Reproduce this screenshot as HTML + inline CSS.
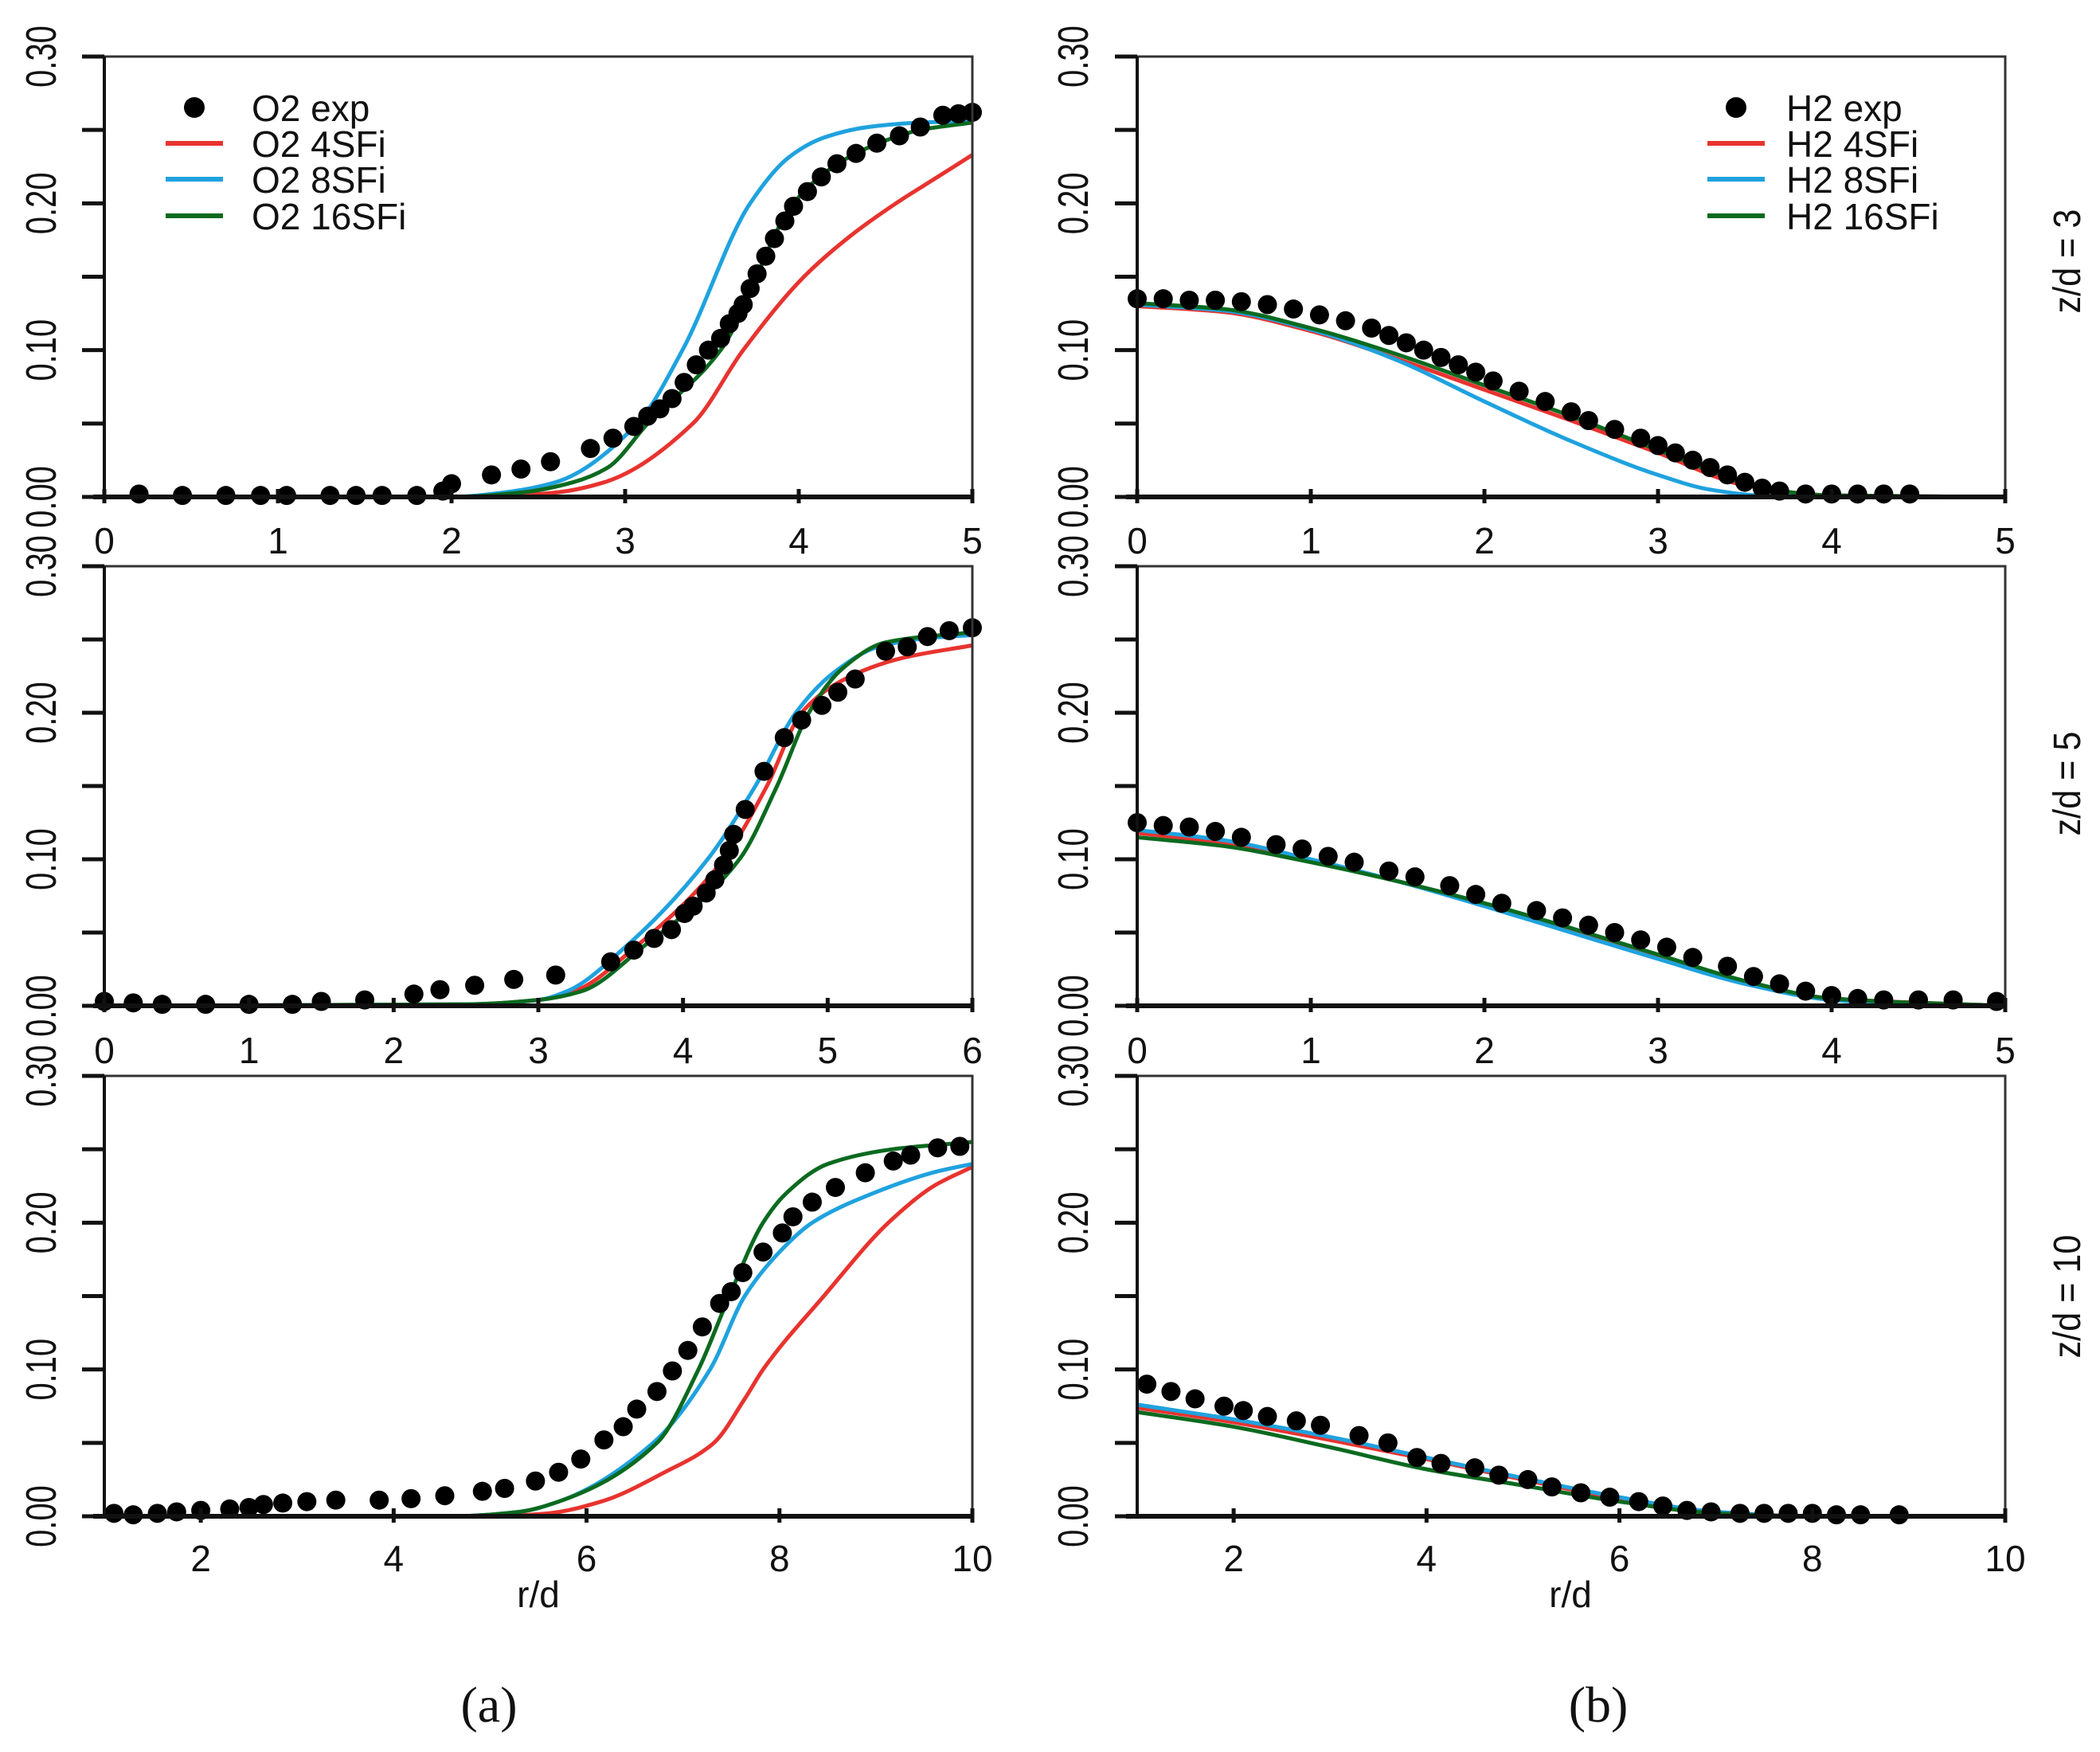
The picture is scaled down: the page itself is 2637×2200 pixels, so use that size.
<!DOCTYPE html>
<html><head><meta charset="utf-8"><style>
html,body{margin:0;padding:0;background:#fff;}
svg{display:block;}
text{font-family:"Liberation Sans",sans-serif;fill:#111;}
</style></head><body>
<svg id="fig" width="2637" height="2200" viewBox="0 0 2637 2200" xmlns="http://www.w3.org/2000/svg"></svg>
<script>
// ---- data ----
const yTickLabels = ["0.00","0.10","0.20","0.30"];
const a1ExpX = [0.2,0.45,0.7,0.9,1.05,1.3,1.45,1.6,1.8,1.95,2.0,2.23,2.4,2.57,2.8,2.93,3.05,3.13,3.2,3.27,3.34,3.41,3.48,3.55,3.6,3.65,3.68,3.72,3.76,3.81,3.86,3.92,3.97,4.05,4.13,4.22,4.33,4.45,4.58,4.7,4.83,4.92,5];
const a1ExpY = [.002,.001,.001,.001,.001,.001,.001,.001,.001,.004,.009,.015,.019,.024,.033,.04,.048,.055,.06,.067,.078,.09,.1,.108,.118,.125,.131,.142,.152,.164,.176,.188,.198,.208,.218,.227,.234,.241,.246,.252,.26,.261,.262];
const a1S16X = [0,2,2.4,2.7,2.9,3.13,3.55,3.97,4.2,4.44,4.7,5];
const a1S16Y = [0,0,.003,.01,.02,.05,.1,.2,.225,.24,.25,.255];
const a1S8X = [0,2,2.3,2.6,3.07,3.33,3.72,3.95,4.15,4.4,4.7,5];
const a1S8Y = [0,0,.003,.01,.05,.1,.2,.232,.245,.252,.255,.256];
const a1S4X = [0,2.2,2.6,2.88,3.39,3.68,4.03,4.3,4.56,4.8,5];
const a1S4Y = [0,0,.003,.01,.05,.1,.15,.178,.2,.218,.233];

const a2ExpX = [0,0.2,0.4,0.7,1,1.3,1.5,1.8,2.14,2.32,2.56,2.83,3.12,3.5,3.66,3.8,3.92,4.01,4.07,4.16,4.22,4.28,4.32,4.35,4.43,4.56,4.7,4.82,4.96,5.07,5.19,5.4,5.55,5.69,5.84,6];
const a2ExpY = [.003,.002,.001,.001,.001,.001,.003,.004,.008,.011,.014,.018,.021,.03,.038,.046,.052,.063,.068,.077,.086,.096,.106,.117,.134,.16,.183,.195,.205,.214,.223,.242,.245,.252,.256,.258];
const a2S16X = [0,2.5,3,3.3,3.72,4.39,4.65,4.87,5.1,5.4,6];
const a2S16Y = [0,.001,.004,.01,.04,.1,.15,.2,.23,.248,.255];
const a2S8X = [0,2.5,3,3.2,3.6,4.17,4.5,4.78,5.05,5.35,5.7,6];
const a2S8Y = [0,.001,.004,.01,.04,.1,.15,.2,.228,.245,.251,.253];
const a2S4X = [0,2.5,3,3.25,3.67,4.28,4.58,4.82,5.1,5.5,6];
const a2S4Y = [0,.001,.004,.01,.04,.1,.15,.2,.222,.237,.246];

const a3ExpX = [1.1,1.3,1.55,1.75,2,2.3,2.5,2.65,2.85,3.1,3.4,3.85,4.18,4.53,4.92,5.15,5.47,5.71,5.94,6.18,6.38,6.52,6.73,6.89,7.05,7.2,7.38,7.5,7.62,7.83,8.03,8.14,8.34,8.58,8.89,9.18,9.36,9.64,9.87];
const a3ExpY = [.002,.001,.002,.003,.004,.005,.006,.008,.009,.01,.011,.011,.012,.014,.017,.019,.024,.03,.039,.052,.061,.073,.085,.099,.113,.129,.145,.153,.166,.18,.193,.204,.214,.224,.234,.242,.246,.251,.252];
const a3S16X = [1,4.6,5.3,5.71,6.73,7.16,7.48,7.83,8.07,8.5,9.17,10];
const a3S16Y = [0,0,.003,.01,.05,.1,.15,.2,.22,.24,.25,.255];
const a3S8X = [1,4.6,5.3,5.71,6.69,7.28,7.64,8.0,8.34,8.97,9.64,10];
const a3S8Y = [0,0,.003,.01,.05,.1,.15,.18,.2,.22,.235,.24];
const a3S4X = [1,5,5.6,6.15,6.81,7.32,7.64,7.83,8.46,9.13,9.6,10];
const a3S4Y = [0,0,.002,.01,.03,.05,.08,.1,.15,.2,.225,.238];

const b1ExpX = [0,0.15,0.3,0.45,0.6,0.75,0.9,1.05,1.2,1.35,1.45,1.55,1.65,1.75,1.85,1.95,2.05,2.2,2.35,2.5,2.6,2.75,2.9,3,3.1,3.2,3.3,3.4,3.5,3.6,3.7,3.85,4,4.15,4.3,4.45];
const b1ExpY = [.135,.135,.134,.134,.133,.131,.128,.124,.12,.115,.11,.105,.1,.095,.09,.085,.079,.072,.065,.058,.052,.046,.04,.035,.03,.025,.02,.015,.01,.006,.004,.002,.002,.002,.002,.002];
const b1S16X = [0,0.5,1,1.5,2,2.5,3,3.3,3.6,4,5];
const b1S16Y = [.132,.128,.115,.097,.076,.055,.032,.018,.006,.001,0];
const b1S4X = [0,0.5,1,1.5,2,2.5,3,3.5,4,5];
const b1S4Y = [.13,.126,.113,.094,.073,.052,.03,.008,.001,0];
const b1S8X = [0,0.5,1,1.5,2,2.5,3,3.3,3.6,5];
const b1S8Y = [.131,.127,.114,.093,.065,.038,.015,.005,.001,0];

const b2ExpX = [0,0.15,0.3,0.45,0.6,0.8,0.95,1.1,1.25,1.45,1.6,1.8,1.95,2.1,2.3,2.45,2.6,2.75,2.9,3.05,3.2,3.4,3.55,3.7,3.85,4,4.15,4.3,4.5,4.7,4.95];
const b2ExpY = [.125,.123,.122,.119,.115,.11,.107,.102,.098,.092,.088,.082,.076,.07,.065,.06,.055,.05,.045,.04,.033,.027,.02,.015,.01,.007,.005,.004,.004,.004,.003];
const b2S8X = [0,0.5,1,1.5,2,2.5,3,3.5,4,4.5,5];
const b2S8Y = [.12,.113,.1,.085,.068,.05,.032,.015,.004,.001,0];
const b2S16X = [0,0.5,1,1.5,2,2.5,3,3.5,4,5];
const b2S16Y = [.115,.109,.098,.085,.07,.053,.035,.017,.005,0];
const b2S4X = [0,0.5,1,1.5,2,2.5,3,3.5,4,5];
const b2S4Y = [.118,.111,.099,.085,.069,.052,.034,.016,.005,0];

const b3ExpX = [1.1,1.35,1.6,1.9,2.1,2.35,2.65,2.9,3.3,3.6,3.9,4.15,4.5,4.75,5.05,5.3,5.6,5.9,6.2,6.45,6.7,6.95,7.25,7.5,7.75,8,8.25,8.5,8.9];
const b3ExpY = [.09,.085,.08,.075,.072,.068,.065,.062,.055,.05,.04,.036,.033,.028,.025,.02,.016,.013,.01,.007,.004,.003,.002,.002,.002,.002,.001,.001,.001];
const b3S8X = [1,2,3,4,5,6,7,8,10];
const b3S8Y = [.076,.066,.054,.04,.026,.013,.003,0,0];
const b3S4X = [1,2,3,4,5,6,7,8,10];
const b3S4Y = [.074,.064,.052,.039,.025,.012,.003,0,0];
const b3S16X = [1,2,3,4,5,6,7,8,10];
const b3S16Y = [.071,.061,.047,.032,.021,.01,.002,0,0];

const xTicksA = [0,1,2,3,4,5];
const xTicksB = [0,1,2,3,4,5,6];
const xTicksC = [2,4,6,8,10];

const RED="#e8332f", BLUE="#1fa2de", GREEN="#0b6a1f";
const NS="http://www.w3.org/2000/svg";
const svg=document.getElementById('fig');
function mk(tag,attrs,parent){const e=document.createElementNS(NS,tag);for(const k in attrs)e.setAttribute(k,attrs[k]);(parent||svg).appendChild(e);return e;}

// monotone cubic (Fritsch-Carlson) path in screen coords
function monoPath(pts){
  const n=pts.length;
  const dx=[],m=[];
  for(let i=0;i<n-1;i++){dx.push(pts[i+1][0]-pts[i][0]);m.push((pts[i+1][1]-pts[i][1])/dx[i]);}
  const t=new Array(n);
  t[0]=m[0];t[n-1]=m[n-2];
  for(let i=1;i<n-1;i++){
    if(m[i-1]*m[i]<=0)t[i]=0;
    else{const w1=2*dx[i]+dx[i-1],w2=dx[i]+2*dx[i-1];t[i]=(w1+w2)/(w1/m[i-1]+w2/m[i]);}
  }
  let d="M"+pts[0][0]+","+pts[0][1];
  for(let i=0;i<n-1;i++){
    const h=dx[i]/3;
    d+=" C"+(pts[i][0]+h)+","+(pts[i][1]+t[i]*h)+" "+(pts[i+1][0]-h)+","+(pts[i+1][1]-t[i+1]*h)+" "+pts[i+1][0]+","+pts[i+1][1];
  }
  return d;
}

function panel(name,L,T,R,B,xmin,xmax,xticks,series,exp,yLabX,xLabY){
  const g=mk('g',{});
  
  
  const sx=v=>L+(v-xmin)/(xmax-xmin)*(R-L);
  const sy=v=>B-v/0.30*(B-T);
  series.forEach(s=>{
    const pts=s.x.map((v,i)=>[sx(v),sy(s.y[i])]);
    const p=mk('path',{d:monoPath(pts),fill:'none',stroke:s.c,'stroke-width':5,'stroke-linejoin':'round'},g);
    
    
  });
  exp.x.forEach((v,i)=>{
    const c=mk('circle',{cx:sx(v),cy:sy(exp.y[i]),r:12,fill:'#000'},g);
    
    
  });
  const f=mk('rect',{x:L,y:T,width:R-L,height:B-T,fill:'none',stroke:'#333','stroke-width':3},g);
  
  
  mk('line',{x1:L-14,y1:B,x2:R,y2:B,stroke:'#111','stroke-width':6},g);
  mk('line',{x1:L,y1:T,x2:L,y2:B,stroke:'#111','stroke-width':4},g);
  for(let k=0;k<=6;k++){
    const y=sy(k*0.05);
    mk('line',{x1:L-28,y1:y,x2:L,y2:y,stroke:'#111','stroke-width':5},g);
  }
  yTickLabels.forEach((lab,i)=>{
    const y=sy(i*0.10);
    const t=mk('text',{x:0,y:0,'font-size':54,'text-anchor':'middle',transform:`translate(${yLabX},${y}) rotate(-90) scale(0.74,1)`},g);
    t.textContent=lab;
    
    
  });
  xticks.forEach(v=>{
    const x=sx(v);
    mk('line',{x1:x,y1:B-10,x2:x,y2:B+8,stroke:'#111','stroke-width':5},g);
    const t=mk('text',{x:x,y:xLabY,'font-size':46,'text-anchor':'middle'},g);
    t.textContent=v;
    
    
  });
  return g;
}

const LA=131,RA=1221,LB=1428,RB=2518;
const rows=[[71,624,695],[711,1263,1335],[1351,1904,1973]];
panel('panel-o2-zd3',LA,rows[0][0],RA,rows[0][1],0,5,xTicksA,
 [{x:a1S4X,y:a1S4Y,c:RED,n:'o2-4sfi-line'},{x:a1S8X,y:a1S8Y,c:BLUE,n:'o2-8sfi-line'},{x:a1S16X,y:a1S16Y,c:GREEN,n:'o2-16sfi-line'}],
 {x:a1ExpX,y:a1ExpY},70,rows[0][2]);
panel('panel-o2-zd5',LA,rows[1][0],RA,rows[1][1],0,6,xTicksB,
 [{x:a2S4X,y:a2S4Y,c:RED,n:'o2-4sfi-line'},{x:a2S8X,y:a2S8Y,c:BLUE,n:'o2-8sfi-line'},{x:a2S16X,y:a2S16Y,c:GREEN,n:'o2-16sfi-line'}],
 {x:a2ExpX,y:a2ExpY},70,rows[1][2]);
panel('panel-o2-zd10',LA,rows[2][0],RA,rows[2][1],1,10,xTicksC,
 [{x:a3S4X,y:a3S4Y,c:RED,n:'o2-4sfi-line'},{x:a3S8X,y:a3S8Y,c:BLUE,n:'o2-8sfi-line'},{x:a3S16X,y:a3S16Y,c:GREEN,n:'o2-16sfi-line'}],
 {x:a3ExpX,y:a3ExpY},70,rows[2][2]);
panel('panel-h2-zd3',LB,rows[0][0],RB,rows[0][1],0,5,xTicksA,
 [{x:b1S4X,y:b1S4Y,c:RED,n:'h2-4sfi-line'},{x:b1S8X,y:b1S8Y,c:BLUE,n:'h2-8sfi-line'},{x:b1S16X,y:b1S16Y,c:GREEN,n:'h2-16sfi-line'}],
 {x:b1ExpX,y:b1ExpY},1366,rows[0][2]);
panel('panel-h2-zd5',LB,rows[1][0],RB,rows[1][1],0,5,xTicksA,
 [{x:b2S4X,y:b2S4Y,c:RED,n:'h2-4sfi-line'},{x:b2S8X,y:b2S8Y,c:BLUE,n:'h2-8sfi-line'},{x:b2S16X,y:b2S16Y,c:GREEN,n:'h2-16sfi-line'}],
 {x:b2ExpX,y:b2ExpY},1366,rows[1][2]);
panel('panel-h2-zd10',LB,rows[2][0],RB,rows[2][1],1,10,xTicksC,
 [{x:b3S4X,y:b3S4Y,c:RED,n:'h2-4sfi-line'},{x:b3S8X,y:b3S8Y,c:BLUE,n:'h2-8sfi-line'},{x:b3S16X,y:b3S16Y,c:GREEN,n:'h2-16sfi-line'}],
 {x:b3ExpX,y:b3ExpY},1366,rows[2][2]);

function legend(name,mx,tx,prefix){
  const g=mk('g',{});
  
  
  const ys=[135,180,225,271];
  const items=[['exp',null],['4SFi',RED],['8SFi',BLUE],['16SFi',GREEN]];
  items.forEach((it,i)=>{
    if(it[1]===null){mk('circle',{cx:mx,cy:ys[i],r:13,fill:'#000'},g);}
    else mk('line',{x1:mx-36,y1:ys[i],x2:mx+36,y2:ys[i],stroke:it[1],'stroke-width':6},g);
    const t=mk('text',{x:tx,y:ys[i]+17,'font-size':46},g);
    t.textContent=prefix+' '+it[0];
    
    
  });
}
legend('legend-o2',244,316,'O2');
legend('legend-h2',2180,2243,'H2');

[['z/d = 3',328],['z/d = 5',984],['z/d = 10',1628]].forEach(r=>{
  const t=mk('text',{x:0,y:0,'font-size':48,'text-anchor':'middle',transform:`translate(2612,${r[1]}) rotate(-90) scale(0.9,1)`});
  t.textContent=r[0];
  
  
});
[[676],[1972]].forEach(r=>{
  const t=mk('text',{x:r[0],y:2018,'font-size':46,'text-anchor':'middle'});
  t.textContent='r/d';
  
  
});
[['(a)',614],['(b)',2007]].forEach(r=>{
  const t=mk('text',{x:r[1],y:2162,'font-size':64,'text-anchor':'middle'});
  t.setAttribute('style','font-family:"Liberation Serif",serif');
  t.textContent=r[0];
  
  
});
</script>
</body></html>
